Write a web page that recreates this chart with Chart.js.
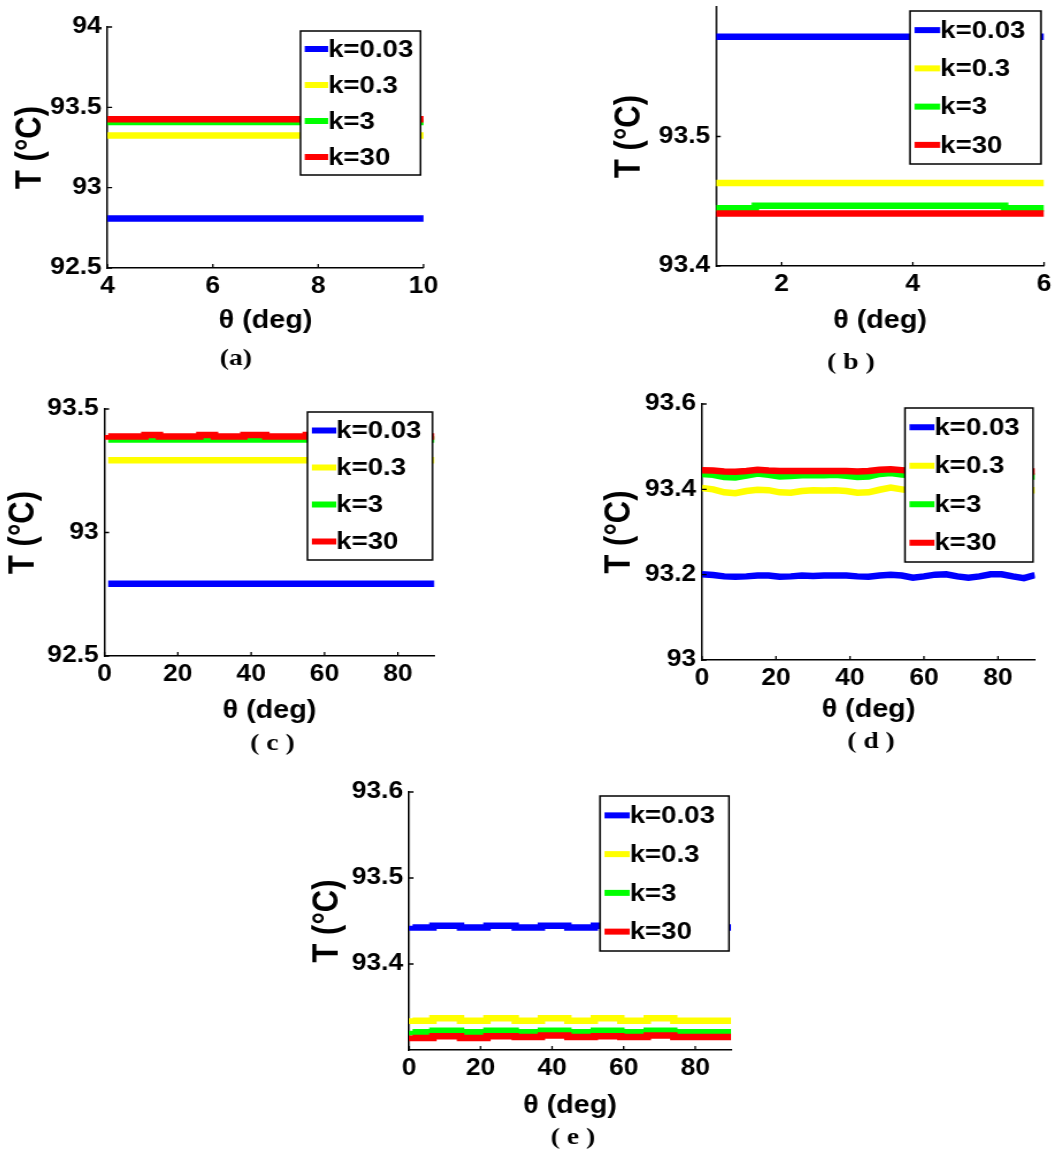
<!DOCTYPE html>
<html>
<head>
<meta charset="utf-8">
<title>T vs θ for several k</title>
<script src="https://cdn.jsdelivr.net/npm/chart.js@4.4.1/dist/chart.umd.min.js"></script>
<style>
  html, body { margin: 0; padding: 0; background: #fff; overflow: hidden; }
  body { width: 1052px; height: 1151px; position: relative; }
  .panel { position: absolute; transform-origin: 0 0; }
  .panel canvas { display: block; }
</style>
</head>
<body>
<div class="panel" id="panelA"><canvas id="chartA"></canvas></div>
<div class="panel" id="panelB"><canvas id="chartB"></canvas></div>
<div class="panel" id="panelC"><canvas id="chartC"></canvas></div>
<div class="panel" id="panelD"><canvas id="chartD"></canvas></div>
<div class="panel" id="panelE"><canvas id="chartE"></canvas></div>
<script>
// series shown in every panel
const kLabels = ['k=0.03', 'k=0.3', 'k=3', 'k=30'];

// (a) theta 4..10 deg
const thetaA = [4, 10];
const tempA = [
  [92.808, 92.808],
  [93.325, 93.325],
  [93.408, 93.408],
  [93.426, 93.426]
];
const xTicksA = [4, 6, 8, 10];
const yTicksA = [92.5, 93, 93.5, 94];

// (b) theta 1..6 deg
const thetaB = [1, 1.6, 1.6, 5.4, 5.4, 6];
const tempB = [
  [93.577, 93.577, 93.577, 93.577, 93.577, 93.577],
  [93.464, 93.464, 93.464, 93.464, 93.464, 93.464],
  [93.4445, 93.4445, 93.4465, 93.4465, 93.4445, 93.4445],
  [93.4405, 93.4405, 93.4405, 93.4405, 93.4405, 93.4405]
];
const xTicksB = [2, 4, 6];
const yTicksB = [93.4, 93.5];

// (c) theta 1..90 deg
const thetaC = [1, 11, 15, 26, 30, 38, 44, 55, 60, 72, 76, 86, 90];
const tempC = [
  [92.793, 92.793, 92.793, 92.793, 92.793, 92.793, 92.793, 92.793, 92.793, 92.793, 92.793, 92.793, 92.793],
  [93.293, 93.293, 93.293, 93.293, 93.293, 93.293, 93.293, 93.293, 93.293, 93.293, 93.293, 93.293, 93.293],
  [93.377, 93.377, 93.377, 93.377, 93.377, 93.377, 93.377, 93.377, 93.377, 93.377, 93.377, 93.377, 93.377],
  [93.395, 93.389, 93.395, 93.389, 93.395, 93.389, 93.395, 93.389, 93.395, 93.389, 93.395, 93.389, 93.389]
];
const xTicksC = [0, 20, 40, 60, 80];
const yTicksC = [92.5, 93, 93.5];

// (d) theta 0..90 deg
const thetaD = [0, 3, 6, 9, 12, 15, 18, 21, 24, 27, 30, 33, 36, 39, 42, 45,
                48, 51, 54, 57, 60, 63, 66, 69, 72, 75, 78, 81, 84, 87, 90];
const tempD = [
  [93.201, 93.199, 93.196, 93.195, 93.196, 93.198, 93.198, 93.195, 93.196, 93.198, 93.197,
   93.198, 93.198, 93.198, 93.196, 93.195, 93.198, 93.200, 93.198, 93.193, 93.196, 93.200,
   93.201, 93.196, 93.193, 93.196, 93.201, 93.201, 93.196, 93.192, 93.199],
  [93.403, 93.400, 93.393, 93.391, 93.396, 93.399, 93.398, 93.393, 93.392, 93.396, 93.398,
   93.397, 93.398, 93.396, 93.392, 93.393, 93.399, 93.404, 93.400, 93.396, 93.395, 93.398,
   93.400, 93.397, 93.395, 93.397, 93.399, 93.398, 93.396, 93.397, 93.398],
  [93.436, 93.434, 93.429, 93.428, 93.432, 93.437, 93.434, 93.430, 93.431, 93.433, 93.433,
   93.433, 93.434, 93.432, 93.429, 93.430, 93.436, 93.438, 93.435, 93.433, 93.432, 93.434,
   93.433, 93.431, 93.432, 93.433, 93.434, 93.433, 93.431, 93.430, 93.430],
  [93.445, 93.444, 93.442, 93.441, 93.443, 93.446, 93.444, 93.443, 93.443, 93.443, 93.443,
   93.443, 93.443, 93.443, 93.442, 93.443, 93.446, 93.447, 93.445, 93.443, 93.443, 93.443,
   93.444, 93.443, 93.443, 93.443, 93.444, 93.443, 93.442, 93.442, 93.442]
];
const xTicksD = [0, 20, 40, 60, 80];
const yTicksD = [93, 93.2, 93.4, 93.6];

// (e) theta 1..90 deg
const thetaE = [1, 6.7, 14.4, 21.8, 29.7, 37, 44.4, 51.8, 59.2, 66.6, 74, 81.4, 90];
const tempE = [
  [93.4445, 93.4425, 93.4445, 93.4425, 93.4445, 93.4425, 93.4445, 93.4425, 93.4445, 93.4425, 93.4445, 93.4425, 93.4425],
  [93.337, 93.334, 93.337, 93.334, 93.337, 93.334, 93.337, 93.334, 93.337, 93.334, 93.337, 93.334, 93.334],
  [93.3225, 93.3205, 93.3225, 93.3205, 93.3225, 93.3205, 93.3225, 93.3205, 93.3225, 93.3205, 93.3225, 93.3205, 93.3205],
  [93.317, 93.314, 93.316, 93.314, 93.316, 93.315, 93.317, 93.315, 93.316, 93.315, 93.317, 93.315, 93.315]
];
const xTicksE = [0, 20, 40, 60, 80];
const yTicksE = [93.4, 93.5, 93.6];

// ---- look & layout ----
const kColors = ['#0000ff', '#ffff00', '#00ff00', '#ff0000'];
const SANS = "'Liberation Sans', Arial, sans-serif";
const SERIF = "'Liberation Serif', 'Times New Roman', serif";
const STRETCH = 1.15;          // panels are drawn a bit wide
const PAD_T = 20, PAD_B = 40;
const Y_TITLE_SIZE = 31, X_TITLE_SIZE = 25;

Chart.defaults.color = '#000';
Chart.defaults.font.family = SANS;

const fmt = v => String(+Number(v).toFixed(3));

// legend box inside the axes, inward tick marks and the panel caption
const panelDecor = {
  id: 'panelDecor',
  afterDatasetsDraw(chart, args, opts) {
    const ctx = chart.ctx;
    const [x0, y0, x1, y1] = opts.legendBox;
    const w = x1 - x0;
    const rowH = (y1 - y0) / chart.data.datasets.length;
    ctx.save();
    ctx.fillStyle = '#fff';
    ctx.fillRect(x0, y0, w, y1 - y0);
    ctx.strokeStyle = '#000';
    ctx.lineWidth = 1.5;
    ctx.strokeRect(x0, y0, w, y1 - y0);
    ctx.font = 'bold 24px ' + SANS;
    ctx.textAlign = 'left';
    ctx.textBaseline = 'middle';
    chart.data.datasets.forEach((ds, i) => {
      const cy = y0 + rowH * (i + 0.5);
      ctx.strokeStyle = ds.borderColor;
      ctx.lineWidth = 6;
      ctx.beginPath();
      ctx.moveTo(x0 + 0.035 * w, cy);
      ctx.lineTo(x0 + 0.23 * w, cy);
      ctx.stroke();
      ctx.fillStyle = '#000';
      ctx.fillText(ds.label, x0 + 0.23 * w, cy + 1);
    });
    ctx.restore();
  },
  afterDraw(chart, args, opts) {
    const {ctx, chartArea: a, scales: {x, y}} = chart;
    ctx.save();
    ctx.strokeStyle = '#000';
    ctx.lineWidth = 1.3;
    ctx.beginPath();
    x.ticks.forEach(t => {
      const px = x.getPixelForValue(t.value);
      ctx.moveTo(px, a.bottom);
      ctx.lineTo(px, a.bottom - 4);
    });
    y.ticks.forEach(t => {
      const py = y.getPixelForValue(t.value);
      ctx.moveTo(a.left, py);
      ctx.lineTo(a.left + 4, py);
    });
    ctx.stroke();
    ctx.font = 'bold 24px ' + SERIF;
    ctx.fillStyle = '#000';
    ctx.textAlign = 'center';
    ctx.textBaseline = 'middle';
    ctx.fillText(opts.caption, opts.captionAt[0], opts.captionAt[1]);
    ctx.restore();
  }
};

function drawPanel(p) {
  const [L, T, R, B] = p.plot;
  const yW = p.yTitleGap / STRETCH + 4 + Y_TITLE_SIZE * 1.2 / 2;
  const xH = p.xTitleGap + X_TITLE_SIZE * 1.2 / 2;
  const areaW = (R - L) / STRETCH;
  const W = Math.round(yW + areaW + p.padR);
  const H = Math.round(PAD_T + (B - T) + xH + PAD_B);
  const padR = W - yW - areaW;
  const divLeft = L - yW * STRETCH;
  const divTop = T - PAD_T;

  const div = document.getElementById(p.div);
  div.style.left = divLeft + 'px';
  div.style.top = divTop + 'px';
  div.style.width = W + 'px';
  div.style.height = H + 'px';
  div.style.transform = 'scaleX(' + STRETCH + ')';
  const canvas = document.getElementById(p.canvas);
  canvas.width = W;
  canvas.height = H;

  const toX = px => (px - divLeft) / STRETCH;
  const toY = py => py - divTop;
  const lb = p.legend;

  new Chart(canvas, {
    type: 'line',
    data: {
      datasets: p.temps.map((vals, i) => ({
        label: kLabels[i],
        data: p.theta.map((t, j) => ({x: t, y: vals[j]})),
        borderColor: kColors[i],
        backgroundColor: kColors[i],
        borderWidth: 6.5,
        pointRadius: 0,
        fill: false,
        stepped: p.stepped,
        order: p.temps.length - i
      }))
    },
    plugins: [panelDecor],
    options: {
      responsive: false,
      animation: false,
      layout: {padding: {left: 0, top: PAD_T, right: padR, bottom: PAD_B}},
      plugins: {
        legend: {display: false},
        tooltip: {enabled: false},
        panelDecor: {
          legendBox: [toX(lb[0]), toY(lb[1]), toX(lb[2]), toY(lb[3])],
          caption: p.caption,
          captionAt: [toX(p.captionAt[0]), toY(p.captionAt[1])]
        }
      },
      scales: {
        x: {
          type: 'linear',
          min: p.xRange[0],
          max: p.xRange[1],
          grid: {display: false, drawTicks: false},
          border: {display: true, color: '#000', width: 1.5},
          ticks: {
            font: {size: 23, weight: 'bold'},
            padding: 5,
            autoSkip: false,
            maxRotation: 0,
            callback: fmt
          },
          afterBuildTicks: s => { s.ticks = p.xTicks.map(v => ({value: v})); },
          afterFit: s => { s.height = xH; },
          title: {
            display: true,
            text: 'θ (deg)',
            font: {size: X_TITLE_SIZE, weight: 'bold'},
            padding: {top: 0, bottom: 0}
          }
        },
        y: {
          type: 'linear',
          min: p.yRange[0],
          max: p.yRange[1],
          grid: {display: false, drawTicks: false},
          border: {display: true, color: '#000', width: 1.5},
          ticks: {
            font: {size: 23, weight: 'bold'},
            padding: 5,
            autoSkip: false,
            callback: fmt
          },
          afterBuildTicks: s => { s.ticks = p.yTicks.map(v => ({value: v})); },
          afterFit: s => { s.width = yW; },
          title: {
            display: true,
            text: 'T (°C)',
            font: {size: Y_TITLE_SIZE, weight: 'bold'},
            padding: {top: 4, bottom: 0}
          }
        }
      }
    }
  });
}

drawPanel({div: 'panelA', canvas: 'chartA', theta: thetaA, temps: tempA, xTicks: xTicksA, yTicks: yTicksA,
  xRange: [4, 10], yRange: [92.5, 94], stepped: false,
  plot: [107, 27, 423, 268], padR: 20, yTitleGap: 76.5, xTitleGap: 53,
  legend: [300, 31, 420, 175], caption: '(a)', captionAt: [235.5, 359]});

drawPanel({div: 'panelB', canvas: 'chartB', theta: thetaB, temps: tempB, xTicks: xTicksB, yTicks: yTicksB,
  xRange: [1, 6], yRange: [93.4, 93.6], stepped: false,
  plot: [716, 7, 1044, 266], padR: 20, yTitleGap: 86, xTitleGap: 55,
  legend: [910, 11, 1041, 164], caption: '( b )', captionAt: [851, 363]});

drawPanel({div: 'panelC', canvas: 'chartC', theta: thetaC, temps: tempC, xTicks: xTicksC, yTicks: yTicksC,
  xRange: [0, 90], yRange: [92.5, 93.5], stepped: 'after',
  plot: [104, 409, 434, 656], padR: 12, yTitleGap: 80.5, xTitleGap: 55,
  legend: [307, 412, 432, 560], caption: '( c )', captionAt: [272, 744]});

drawPanel({div: 'panelD', canvas: 'chartD', theta: thetaD, temps: tempD, xTicks: xTicksD, yTicks: yTicksD,
  xRange: [0, 90], yRange: [93, 93.6], stepped: false,
  plot: [702, 404, 1035, 660], padR: 12, yTitleGap: 82, xTitleGap: 50,
  legend: [905, 408, 1033, 562], caption: '( d )', captionAt: [871, 742]});

drawPanel({div: 'panelE', canvas: 'chartE', theta: thetaE, temps: tempE, xTicks: xTicksE, yTicks: yTicksE,
  xRange: [0, 90], yRange: [93.3, 93.6], stepped: 'after',
  plot: [409, 792, 731, 1050], padR: 12, yTitleGap: 81, xTitleGap: 56,
  legend: [600, 796, 729, 951], caption: '( e )', captionAt: [573, 1138]});
</script>
</body>
</html>
